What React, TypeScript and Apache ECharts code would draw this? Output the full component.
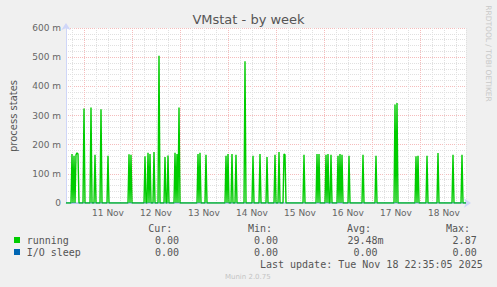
import React, { useEffect, useRef } from 'react';
import * as echarts from 'echarts';

// time axis: hours after 10 Nov 00:00
const START_HOUR = 15;
const END_HOUR = 215;
const FIRST_DAY = 10;
const MONTH = 'Nov';

// running spikes: [hour after 10 Nov 00:00, value]
const runningSpikes: [number, number][] = [
  [18, 0.168], [19, 0.162], [20, 0.165], [20.5, 0.172], [21, 0.168],
  [24, 0.324], [27.5, 0.327], [29.5, 0.165], [32.5, 0.321], [36, 0.162],
  [46.5, 0.167], [47.5, 0.165],
  [54.5, 0.16], [56, 0.172], [57, 0.168], [59, 0.175], [61.5, 0.505],
  [64.5, 0.158], [66, 0.163], [69.5, 0.172], [70.5, 0.168], [71.5, 0.327],
  [81, 0.168], [82, 0.172], [85, 0.165],
  [95, 0.162], [96, 0.168], [98, 0.168], [100, 0.165], [104.5, 0.486],
  [108.5, 0.162], [112, 0.168], [115.5, 0.158], [119.5, 0.165], [121.5, 0.175],
  [124, 0.168], [124.5, 0.165], [134, 0.165],
  [140.5, 0.168], [141.5, 0.168], [145, 0.165], [146, 0.168], [147.5, 0.165],
  [151, 0.162], [152, 0.168], [153, 0.165], [156.5, 0.162], [163.5, 0.165], [170, 0.162],
  [179.5, 0.338], [180.5, 0.343], [190, 0.16], [191, 0.162], [195.5, 0.162],
  [201, 0.171], [208.5, 0.165], [213, 0.165],
];
const ioSleepSpikes: [number, number][] = [];

const yTicks = [0, 0.1, 0.2, 0.3, 0.4, 0.5, 0.6];

const legendNames = ['running', 'I/O sleep'];
const legendColors = ['#00cc00', '#0066b3'];
const statHeaders = ['Cur:', 'Min:', 'Avg:', 'Max:'];
const runningStats = ['0.00', '0.00', '29.48m', '2.87'];
const ioSleepStats = ['0.00', '0.00', '0.00', '0.00'];
const lastUpdate = 'Last update: Tue Nov 18 22:35:05 2025';
const titleText = 'VMstat - by week';
const yName = 'process states';
const watermark = 'RRDTOOL / TOBI OETIKER';
const version = 'Munin 2.0.75';

const buildLine = (spikes: [number, number][]) => {
  const m = new Map<number, number>();
  m.set(START_HOUR, 0);
  m.set(END_HOUR, 0);
  spikes.forEach(([h]) => {
    [h - 0.5, h + 0.5].forEach((n) => {
      if (!m.has(n)) m.set(n, 0);
    });
  });
  spikes.forEach(([h, v]) => m.set(h, v));
  return [...m.entries()].sort((a, b) => a[0] - b[0]);
};

const AXIS = '#cfd6f8';
const MINOR = '#e0e0e0';
const MAJOR = '#f5bcbc';
const FONT = '#555555';
const SANS = 'DejaVu Sans';
const MONO = 'DejaVu Sans Mono';

export default function App() {
  const ref = useRef<HTMLDivElement>(null);
  useEffect(() => {
    if (!ref.current) return;
    const chart = echarts.init(ref.current, null, { renderer: 'svg' });

    const charW = 6.02;
    const headerRight = [172.3, 272, 371, 470];
    const valueRight = [185, 284, 383.5, 482.7];
    const rowY = [240, 252];

    const graphics: any[] = [
      {
        type: 'text', x: 248.5, y: 19, z: 100,
        style: { text: titleText, font: `13px "${SANS}"`, fill: FONT, align: 'center', verticalAlign: 'middle' },
      },
      {
        type: 'text', x: 13, y: 116, rotation: Math.PI / 2, z: 100,
        style: { text: yName, font: `10px "${SANS}"`, fill: FONT, align: 'center', verticalAlign: 'middle' },
      },
      {
        type: 'text', x: 488.5, y: 53.5, rotation: -Math.PI / 2, z: 100,
        style: { text: watermark, font: `7.5px "${SANS}"`, fill: '#c8c8c8', align: 'center', verticalAlign: 'middle' },
      },
      {
        type: 'text', x: 247.8, y: 276.5, z: 100,
        style: { text: version, font: `7px "${SANS}"`, fill: '#c4c4c4', align: 'center', verticalAlign: 'middle' },
      },
      {
        type: 'text', x: 482.7, y: 264, z: 100,
        style: { text: lastUpdate, font: `10px "${MONO}"`, fill: FONT, align: 'right', verticalAlign: 'middle' },
      },
    ];
    statHeaders.forEach((h, i) => {
      graphics.push({
        type: 'text', x: headerRight[i], y: 228, z: 100,
        style: { text: h, font: `10px "${MONO}"`, fill: FONT, align: 'right', verticalAlign: 'middle' },
      });
    });
    [runningStats, ioSleepStats].forEach((row, r) => {
      graphics.push({
        type: 'rect', z: 100,
        shape: { x: 14, y: rowY[r] - 3, width: 6, height: 6 },
        style: { fill: legendColors[r] },
      });
      graphics.push({
        type: 'text', x: 26.7, y: rowY[r], z: 100,
        style: { text: legendNames[r], font: `10px "${MONO}"`, fill: FONT, align: 'left', verticalAlign: 'middle' },
      });
      row.forEach((v, i) => {
        const right = v.endsWith('m') ? valueRight[i] : valueRight[i] - charW;
        graphics.push({
          type: 'text', x: right, y: rowY[r], z: 100,
          style: { text: v, font: `10px "${MONO}"`, fill: FONT, align: 'right', verticalAlign: 'middle' },
        });
      });
    });

    const option: any = {
      animation: false,
      backgroundColor: '#f0f0f0',
      grid: { left: 66, right: 31, top: 28, bottom: 84, show: true, backgroundColor: '#ffffff', borderWidth: 0 },
      xAxis: [
        {
          type: 'value', position: 'bottom', min: START_HOUR, max: END_HOUR,
          minInterval: 6, maxInterval: 6, splitNumber: 34,
          axisLine: { show: true, onZero: false, lineStyle: { color: AXIS, width: 1 }, symbol: ['none', 'arrow'], symbolSize: [7, 7], symbolOffset: [0, 5] },
          axisTick: { show: false },
          axisLabel: { show: false },
          splitLine: { show: true, showMinLine: false, lineStyle: { color: MINOR, type: [1, 1], width: 1 } },
        },
        {
          type: 'value', position: 'bottom', min: START_HOUR, max: END_HOUR,
          minInterval: 24, maxInterval: 24, splitNumber: 8,
          axisLine: { show: false },
          axisTick: { show: false },
          axisLabel: { show: false },
          splitLine: { show: true, showMinLine: false, showMaxLine: false, lineStyle: { color: MAJOR, type: [1, 1], width: 1 } },
        },
        {
          type: 'value', position: 'bottom', min: START_HOUR + 12, max: END_HOUR + 12,
          minInterval: 24, maxInterval: 24, splitNumber: 8,
          axisLine: { show: false },
          axisTick: { show: false },
          splitLine: { show: false },
          axisLabel: {
            show: true, showMinLabel: false, showMaxLabel: false, margin: 5,
            color: '#666666', fontFamily: SANS, fontSize: 9,
            formatter: (v: number) => (v % 24 === 0 ? `${FIRST_DAY + Math.floor((v - 12) / 24)} ${MONTH}` : ''),
          },
        },
      ],
      yAxis: {
        type: 'value', min: yTicks[0], max: yTicks[yTicks.length - 1], interval: 0.1,
        axisLine: { show: true, lineStyle: { color: AXIS, width: 1 }, symbol: ['none', 'arrow'], symbolSize: [7, 7], symbolOffset: [0, 5] },
        axisTick: { show: false },
        axisLabel: {
          margin: 5, color: '#666666', fontFamily: SANS, fontSize: 9,
          formatter: (v: number) => (v === 0 ? '0' : `${Math.round(v * 1000)} m`),
        },
        splitLine: { show: true, lineStyle: { color: MAJOR, type: [1, 1], width: 1 } },
        minorTick: { show: false, splitNumber: 5 },
        minorSplitLine: { show: true, lineStyle: { color: MINOR, type: [1, 1], width: 1 } },
      },
      series: [
        {
          name: legendNames[0], type: 'line', xAxisIndex: 0, data: buildLine(runningSpikes),
          showSymbol: false, symbol: 'none', lineStyle: { color: legendColors[0], width: 1.4 }, z: 3,
        },
        {
          name: legendNames[1], type: 'line', xAxisIndex: 0, data: buildLine(ioSleepSpikes),
          showSymbol: false, symbol: 'none', lineStyle: { color: legendColors[1], width: 1, opacity: 0.5 }, z: 4,
        },
      ],
      graphic: graphics,
    };
    chart.setOption(option);
    return () => chart.dispose();
  }, []);
  return <div ref={ref} style={{ width: 497, height: 287, position: 'fixed', left: 0, top: 0 }} />;
}
